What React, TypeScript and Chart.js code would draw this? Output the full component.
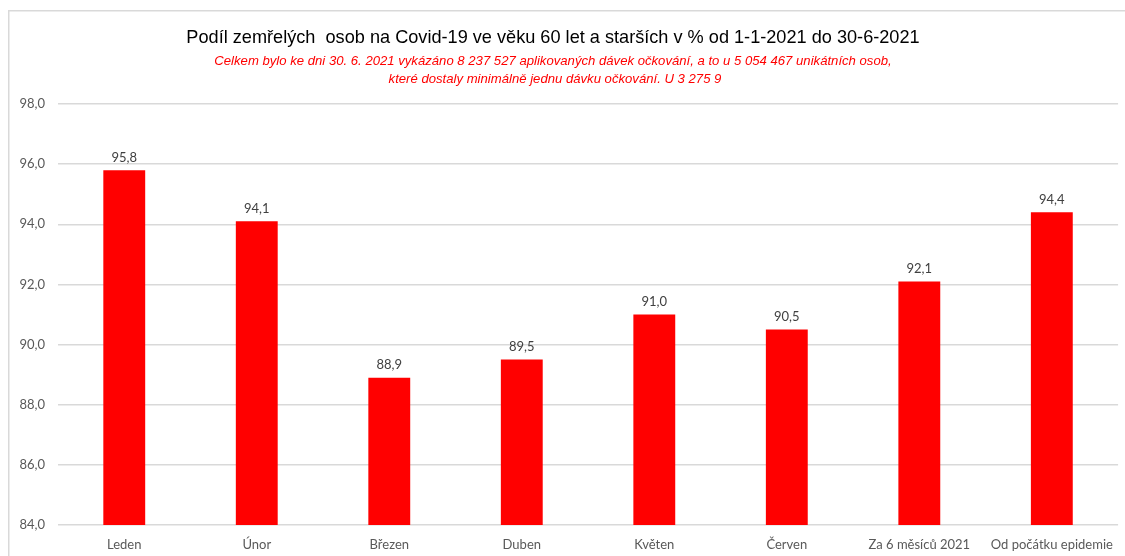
import React, { useEffect, useRef } from "react";
import { Chart, registerables } from "chart.js";

Chart.register(...registerables);

const categories = [
  "Leden",
  "Únor",
  "Březen",
  "Duben",
  "Květen",
  "Červen",
  "Za 6 měsíců 2021",
  "Od počátku epidemie",
];
const shareValues = [95.8, 94.1, 88.9, 89.5, 91.0, 90.5, 92.1, 94.4];
const yTicks = [84, 86, 88, 90, 92, 94, 96, 98];

const titleText =
  "Podíl zemřelých  osob na Covid-19 ve věku 60 let a starších v % od 1-1-2021 do 30-6-2021";
const subtitleLines = [
  "Celkem bylo ke dni 30. 6. 2021 vykázáno 8 237 527 aplikovaných dávek očkování, a to u 5 054 467 unikátních osob,",
  "které dostaly minimálně jednu dávku očkování. U 3 275 9",
];

const fmt = (v: number) => v.toFixed(1).replace(".", ",");

const LABEL_FONT = "Lato, 'Open Sans', sans-serif";

// Draws centred text squeezed horizontally, for a narrow-looking face.
function drawCondensed(ctx: CanvasRenderingContext2D, text: string, x: number, y: number, sx: number) {
  ctx.save();
  ctx.translate(x, y);
  ctx.scale(sx, 1);
  ctx.fillText(text, 0, 0);
  ctx.restore();
}

const headerAndFrame = {
  id: "headerAndFrame",
  beforeDraw(chart: any) {
    const { ctx } = chart;
    ctx.save();
    ctx.fillStyle = "#ffffff";
    ctx.fillRect(0, 0, chart.width, chart.height);
    // light frame around the chart
    ctx.strokeStyle = "#d9d9d9";
    ctx.lineWidth = 1.5;
    ctx.beginPath();
    ctx.moveTo(8.75, chart.height);
    ctx.lineTo(8.75, 10.75);
    ctx.lineTo(chart.width, 10.75);
    ctx.stroke();
    ctx.restore();
  },
  afterDraw(chart: any) {
    const { ctx } = chart;
    ctx.save();
    ctx.textAlign = "center";
    ctx.textBaseline = "middle";
    ctx.fillStyle = "#000000";
    ctx.font = "19px 'Liberation Sans', Arial, sans-serif";
    drawCondensed(ctx, titleText, 553, 38, 0.955);
    ctx.fillStyle = "#ff0000";
    ctx.font = "italic 13px 'Liberation Sans', Arial, sans-serif";
    drawCondensed(ctx, subtitleLines[0], 553, 61, 1.01);
    drawCondensed(ctx, subtitleLines[1], 555, 79, 1.01);
    ctx.restore();
  },
};

const valueLabels = {
  id: "valueLabels",
  afterDatasetsDraw(chart: any) {
    const { ctx } = chart;
    const meta = chart.getDatasetMeta(0);
    ctx.save();
    ctx.fillStyle = "#404040";
    ctx.font = `13px ${LABEL_FONT}`;
    ctx.textAlign = "center";
    ctx.textBaseline = "bottom";
    meta.data.forEach((bar: any, i: number) => {
      ctx.fillText(fmt(shareValues[i]), bar.x, bar.y - 6);
    });
    ctx.restore();
  },
};

export default function App() {
  const canvasRef = useRef<HTMLCanvasElement | null>(null);

  useEffect(() => {
    if (!canvasRef.current) return;
    const chart = new Chart(canvasRef.current, {
      type: "bar",
      data: {
        labels: categories,
        datasets: [
          {
            data: shareValues,
            backgroundColor: "#ff0000",
            borderWidth: 0,
            barPercentage: 0.316,
            categoryPercentage: 1,
          },
        ],
      },
      options: {
        responsive: false,
        animation: false,
        devicePixelRatio: 1,
        layout: { padding: { top: 104, right: 2, left: 0, bottom: 0 } },
        plugins: {
          legend: { display: false },
          title: { display: false },
          tooltip: { enabled: false },
        },
        scales: {
          x: {
            grid: { display: false, drawTicks: false },
            border: { display: false },
            ticks: {
              color: "#595959",
              font: { family: LABEL_FONT, size: 13 },
              padding: 12,
              maxRotation: 0,
              autoSkip: false,
            },
            afterFit(scale: any) {
              scale.height = 31;
            },
          },
          y: {
            min: 84,
            max: 98,
            afterBuildTicks(scale: any) {
              scale.ticks = yTicks.map((v) => ({ value: v }));
            },
            grid: { color: "#d9d9d9", lineWidth: 1.5, drawTicks: false },
            border: { display: false },
            ticks: {
              color: "#595959",
              font: { family: LABEL_FONT, size: 13 },
              padding: 13,
              callback: (v: any) => fmt(Number(v)),
            },
            afterFit(scale: any) {
              scale.width = 58;
            },
          },
        },
      },
      plugins: [headerAndFrame, valueLabels],
    });
    return () => chart.destroy();
  }, []);

  return (
    <div style={{ position: "fixed", left: 0, top: 0, width: 1125, height: 556, background: "#fff" }}>
      <canvas ref={canvasRef} width={1125} height={556} style={{ width: 1125, height: 556 }} />
    </div>
  );
}
